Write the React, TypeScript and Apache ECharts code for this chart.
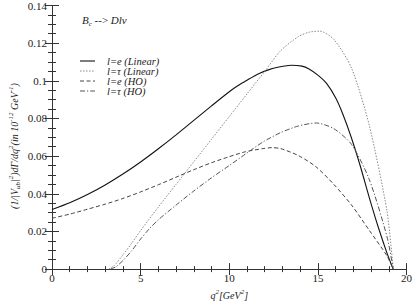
import React, { useEffect, useRef } from "react";
import * as echarts from "echarts";

const xTicks = [0, 5, 10, 15, 20];
const yTicks = [0, 0.02, 0.04, 0.06, 0.08, 0.1, 0.12, 0.14];

const eLinear: [number, number][] = [
  [0, 0.0316], [1, 0.0352], [2, 0.0396], [3, 0.0447], [4, 0.0505], [5, 0.0569],
  [6, 0.0639], [7, 0.0713], [8, 0.079], [9, 0.0867], [10, 0.0942], [10.5, 0.0975],
  [11, 0.1003], [11.6, 0.1035], [12.2, 0.1058], [12.8, 0.1073], [13.5, 0.1083],
  [14.1, 0.1078], [14.5, 0.1063], [15, 0.103], [15.5, 0.0985], [16, 0.091],
  [16.4, 0.0825], [16.9, 0.0695], [17.4, 0.0545], [17.9, 0.038], [18.4, 0.0225],
  [18.9, 0.0085], [19.25, 0],
];
const tauLinear: [number, number][] = [
  [3.2, 0], [3.5, 0.0018], [4, 0.0075], [4.5, 0.0138], [5, 0.0205], [6, 0.033],
  [7, 0.045], [8, 0.057], [9, 0.069], [10, 0.081], [11, 0.093], [12, 0.105],
  [12.9, 0.116], [13.9, 0.1235], [14.5, 0.1258], [15.1, 0.1264], [15.9, 0.122],
  [16.9, 0.1067], [17.9, 0.0763], [18.9, 0.0307], [19.25, 0],
];
const eHO: [number, number][] = [
  [0, 0.027], [1, 0.0292], [2, 0.0318], [3, 0.0345], [4, 0.0375], [5, 0.041],
  [6, 0.0448], [7, 0.0488], [8, 0.0528], [9, 0.0565], [9.9, 0.0594], [10.9, 0.0623],
  [11.9, 0.064], [12.4, 0.0645], [12.9, 0.064], [13.9, 0.0603], [14.9, 0.0543],
  [15.9, 0.045], [16.9, 0.034], [17.9, 0.0206], [18.9, 0.007], [19.25, 0],
];
const tauHO: [number, number][] = [
  [3.3, 0], [3.6, 0.0012], [4, 0.0045], [4.5, 0.0098], [5, 0.016], [5.5, 0.0215],
  [6, 0.0262], [7, 0.034], [8, 0.0415], [9, 0.0485], [10, 0.055], [10.9, 0.061],
  [11.9, 0.0675], [12.9, 0.0725], [13.9, 0.076], [14.9, 0.0776], [15.9, 0.0746],
  [16.9, 0.0662], [17.9, 0.0476], [18.9, 0.0172], [19.25, 0],
];

const legendNames = ["l=e (Linear)", "l=\u03c4 (Linear)", "l=e (HO)", "l=\u03c4 (HO)"];

export default function App() {
  const ref = useRef<HTMLDivElement>(null);
  useEffect(() => {
    if (!ref.current) return;
    const chart = echarts.init(ref.current, null, { renderer: "svg" });
    const font = "'Liberation Serif', 'DejaVu Serif', serif";
    const axisColor = "#333";
    const styles = [
      { color: "#111", type: "solid" as any, width: 1.1 },
      { color: "#888", type: [1.5, 1.5] as any, width: 1 },
      { color: "#444", type: [4, 2.5] as any, width: 1 },
      { color: "#555", type: [5, 2, 1.2, 2] as any, width: 1 },
    ];
    const datas = [eLinear, tauLinear, eHO, tauHO];
    const baseAxis = {
      type: "value" as const,
      axisLine: { show: true, lineStyle: { color: axisColor, width: 1 } },
      splitLine: { show: false },
    };
    const supStyle = { fontSize: 7, verticalAlign: "top" as const, fontStyle: "italic" as const, fontFamily: font, color: "#222", lineHeight: 14 };
    const normStyle = { fontSize: 10, fontStyle: "italic" as const, fontFamily: font, color: "#222", lineHeight: 14 };

    const legendGraphics: any[] = [];
    legendNames.forEach((n, i) => {
      const y = 61 + i * 10;
      legendGraphics.push({
        type: "line",
        shape: { x1: 80, y1: y, x2: 95, y2: y },
        style: { stroke: styles[i].color, lineWidth: styles[i].width, lineDash: styles[i].type === "solid" ? null : styles[i].type },
      });
      legendGraphics.push({
        type: "text",
        x: 107,
        y: y,
        style: { text: n, font: `italic 10.5px ${font}`, fill: "#222", verticalAlign: "middle", align: "left" },
      });
    });

    chart.setOption({
      animation: false,
      grid: { left: 52, right: 5, top: 4, bottom: 24, containLabel: false },
      xAxis: [
        {
          ...baseAxis,
          position: "bottom",
          min: 0,
          max: 20,
          interval: 5,
          axisTick: { show: true, inside: true, length: 6, lineStyle: { color: axisColor } },
          minorTick: { show: true, splitNumber: 5, length: 3, lineStyle: { color: axisColor } },
          axisLabel: { fontFamily: font, fontSize: 11, color: "#222", margin: 3, formatter: (v: number) => (xTicks.includes(v) ? String(v) : "") },
          name: "{i|q}{s|2}{i|[GeV}{s|2}{i|]}",
          nameLocation: "middle",
          nameGap: 16,
          nameTextStyle: { rich: { i: normStyle, s: supStyle } },
        },
        {
          ...baseAxis,
          position: "top",
          min: 0,
          max: 20,
          interval: 5,
          axisTick: { show: true, inside: true, length: 6, lineStyle: { color: axisColor } },
          minorTick: { show: true, splitNumber: 5, length: 3, lineStyle: { color: axisColor } },
          axisLabel: { show: false },
        },
      ],
      yAxis: [
        {
          ...baseAxis,
          position: "left",
          min: 0,
          max: 0.14,
          interval: 0.02,
          axisTick: { show: true, inside: true, length: 7, lineStyle: { color: axisColor } },
          minorTick: { show: true, splitNumber: 4, length: 4, lineStyle: { color: axisColor } },
          axisLabel: {
            fontFamily: font, fontSize: 11, color: "#222", margin: 5,
            formatter: (v: number) => {
              const t = yTicks.find((k) => Math.abs(k - v) < 1e-9);
              return t === undefined ? "" : String(t);
            },
          },
        },
        {
          ...baseAxis,
          position: "right",
          min: 0,
          max: 0.14,
          interval: 0.02,
          axisTick: { show: true, inside: true, length: 7, lineStyle: { color: axisColor } },
          minorTick: { show: true, splitNumber: 4, length: 4, lineStyle: { color: axisColor } },
          axisLabel: { show: false },
        },
      ],
      series: datas.map((d, i) => ({
        type: "line",
        name: legendNames[i],
        data: d,
        xAxisIndex: 0,
        yAxisIndex: 0,
        smooth: 0.25,
        showSymbol: false,
        symbol: "none",
        lineStyle: styles[i],
      })),
      graphic: [
        ...legendGraphics,
        {
          type: "text",
          x: 82,
          y: 20,
          style: {
            text: "{i|B}{b|c}{n| --> }{i|Dl\u03bd}",
            rich: {
              i: { fontSize: 11, fontStyle: "italic", fontFamily: font, fill: "#222", lineHeight: 14 },
              n: { fontSize: 11, fontFamily: font, fill: "#222", lineHeight: 14 },
              b: { fontSize: 7, fontStyle: "italic", fontFamily: font, fill: "#222", lineHeight: 14, verticalAlign: "bottom" },
            },
            verticalAlign: "middle",
            align: "left",
          },
        },
        {
          type: "text",
          x: 14,
          y: 146,
          rotation: Math.PI / 2,
          style: {
            text: "{n|(1/|V}{b|ub}{n||}{s|2}{n|)d\u0393/dq}{s|2}{n|(in 10}{s|-12}{n| GeV}{s|-1}{n|)}",
            rich: {
              n: { fontSize: 10, fontStyle: "italic", fontFamily: font, fill: "#222", lineHeight: 14 },
              s: { fontSize: 7, fontStyle: "italic", fontFamily: font, fill: "#222", lineHeight: 14, verticalAlign: "top" },
              b: { fontSize: 7, fontStyle: "italic", fontFamily: font, fill: "#222", lineHeight: 14, verticalAlign: "bottom" },
            },
            align: "center",
            verticalAlign: "middle",
          },
        },
      ],
    });
    return () => chart.dispose();
  }, []);
  return <div ref={ref} style={{ width: 415, height: 305, position: "absolute", left: 0, top: 0, background: "#fff" }} />;
}
